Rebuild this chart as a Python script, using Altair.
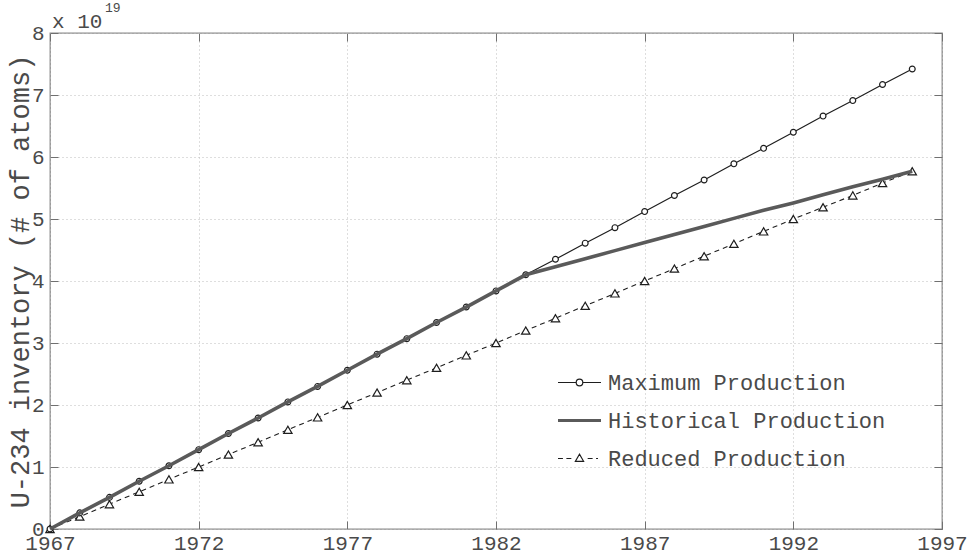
import altair as alt
import pandas as pd

# U-234 inventory per year, in units of 1e19 atoms
years = list(range(1967, 1997))
maximum = [0.00, 0.26, 0.51, 0.77, 1.02, 1.28, 1.54, 1.79, 2.05, 2.30,
           2.56, 2.82, 3.07, 3.33, 3.58, 3.84, 4.10, 4.35, 4.61, 4.86,
           5.12, 5.38, 5.63, 5.89, 6.14, 6.40, 6.66, 6.91, 7.17, 7.42]
historical = [0.00, 0.26, 0.51, 0.77, 1.02, 1.28, 1.54, 1.79, 2.05, 2.30,
              2.56, 2.82, 3.07, 3.33, 3.58, 3.84, 4.10, 4.23, 4.36, 4.49,
              4.62, 4.75, 4.88, 5.01, 5.14, 5.26, 5.39, 5.52, 5.64, 5.77]
reduced = [0.0, 0.2, 0.4, 0.6, 0.8, 1.0, 1.2, 1.4, 1.6, 1.8,
           2.0, 2.2, 2.4, 2.6, 2.8, 3.0, 3.2, 3.4, 3.6, 3.8,
           4.0, 4.2, 4.4, 4.6, 4.8, 5.0, 5.19, 5.38, 5.58, 5.77]

series_names = ["Maximum Production", "Historical Production", "Reduced Production"]
x_ticks = [1967, 1972, 1977, 1982, 1987, 1992, 1997]
y_ticks = [0, 1, 2, 3, 4, 5, 6, 7, 8]
exponent_base = "x 10"
exponent_power = "19"

rows = []
for name, vals in zip(series_names, [maximum, historical, reduced]):
    for yr, v in zip(years, vals):
        rows.append({"series": name, "year": yr, "value": v})
df = pd.DataFrame(rows)

FONT = "Liberation Mono"
INK = "#1e1e1e"
TEXT = "#4a4a4a"
W, H = 892, 496

x_scale = alt.Scale(domain=[1967, 1997], nice=False, zero=False)
y_scale = alt.Scale(domain=[0, 8], nice=False, zero=True)

x_axis = alt.Axis(values=x_ticks, format="d", title=None, ticks=False, domain=False,
                  grid=True, gridDash=[1, 3], gridColor="#bdbdbd", gridWidth=1,
                  labelFont=FONT, labelFontSize=21, labelColor=TEXT, labelPadding=3,
                  labelFlush=False)
y_axis = alt.Axis(values=y_ticks, title="U-234 inventory (# of atoms)", ticks=False,
                  domain=False, grid=True, gridDash=[1, 3], gridColor="#bdbdbd",
                  gridWidth=1, labelFont=FONT, labelFontSize=21, labelColor=TEXT,
                  labelPadding=6, labelFlush=False, titleFont=FONT, titleFontSize=27,
                  titleFontWeight="normal", titleColor=TEXT, titlePadding=-3)

base = alt.Chart(df).encode(
    x=alt.X("year:Q", scale=x_scale, axis=x_axis),
    y=alt.Y("value:Q", scale=y_scale, axis=y_axis),
)


def only(name):
    return base.transform_filter(alt.datum.series == name)


max_line = only("Maximum Production").mark_line(color=INK, strokeWidth=1.2)
max_pts = only("Maximum Production").mark_point(
    shape="circle", size=34, filled=True, fill="white", stroke=INK,
    strokeWidth=1.2, opacity=1)
hist_line = only("Historical Production").mark_line(color="#5a5a5a", strokeWidth=3.6)
red_line = only("Reduced Production").mark_line(color=INK, strokeWidth=1.1,
                                                 strokeDash=[5, 4])
red_pts = only("Reduced Production").mark_point(
    shape="triangle-up", size=70, filled=True, fill="white", stroke=INK,
    strokeWidth=1.2, opacity=1)

# legend glyphs: line with marker, thick line, dashed line with marker
legend_glyphs = [
    "M-1,0H-0.153A0.153,0.153 0 1,0 0.153,0A0.153,0.153 0 1,0 -0.153,0M0.153,0H1",
    "M-1,-0.045H1M-1,0H1M-1,0.045H1",
    "M-1,0H-0.77M-0.61,0H-0.38M-0.19,0.13L0,-0.2L0.19,0.13ZM0.38,0H0.61M0.77,0H0.86",
]
legend = alt.Legend(orient="none", legendX=507, legendY=327, title=None,
                    symbolSize=1849, symbolStrokeWidth=1.2, labelFont=FONT,
                    labelFontSize=22, labelColor=TEXT, labelOffset=6,
                    labelLimit=0, rowPadding=4, padding=0)
legend_key = alt.Chart(df).transform_filter("false").mark_point(
    filled=False, opacity=1).encode(
    x=alt.X("year:Q", scale=x_scale, axis=x_axis),
    y=alt.Y("value:Q", scale=y_scale, axis=y_axis),
    color=alt.Color("series:N", scale=alt.Scale(domain=series_names,
                    range=[INK, "#5a5a5a", INK]), legend=legend),
    shape=alt.Shape("series:N", scale=alt.Scale(domain=series_names,
                    range=legend_glyphs), legend=legend),
)

exp_df = pd.DataFrame({"base": [exponent_base], "power": [exponent_power]})
exp_base = alt.Chart(exp_df).mark_text(
    align="left", baseline="alphabetic", font=FONT, fontSize=21, color=TEXT
).encode(x=alt.value(2), y=alt.value(-5), text="base:N")
exp_power = alt.Chart(exp_df).mark_text(
    align="left", baseline="alphabetic", font=FONT, fontSize=13, color=TEXT
).encode(x=alt.value(55), y=alt.value(-21), text="power:N")

main = alt.layer(red_line, red_pts, max_line, max_pts, hist_line, legend_key,
                 exp_base, exp_power)

# inward tick marks on all four edges, drawn as dashed grid lines
tick_layer = alt.Chart(df).transform_filter("false").mark_point(opacity=0).encode(
    x=alt.X("year:Q", scale=x_scale,
            axis=alt.Axis(orient="top", values=x_ticks, labels=False, ticks=False,
                          domain=False, grid=True, gridDash=[8, H - 16],
                          gridColor="#707070", gridWidth=1, title=None)),
    y=alt.Y("value:Q", scale=y_scale,
            axis=alt.Axis(orient="right", values=y_ticks, labels=False, ticks=False,
                          domain=False, grid=True, gridDash=[8, W - 16],
                          gridColor="#707070", gridWidth=1, title=None)),
)

chart = alt.layer(main, tick_layer).resolve_scale(
    x="independent", y="independent"
).properties(
    width=W, height=H, autosize="none",
    padding={"left": 50, "top": 33, "right": 31, "bottom": 26},
    background="white",
).configure_view(stroke="#8a8a8a", strokeWidth=1.3)

chart.save("out.html", embed_options={"renderer": "svg", "actions": False})
